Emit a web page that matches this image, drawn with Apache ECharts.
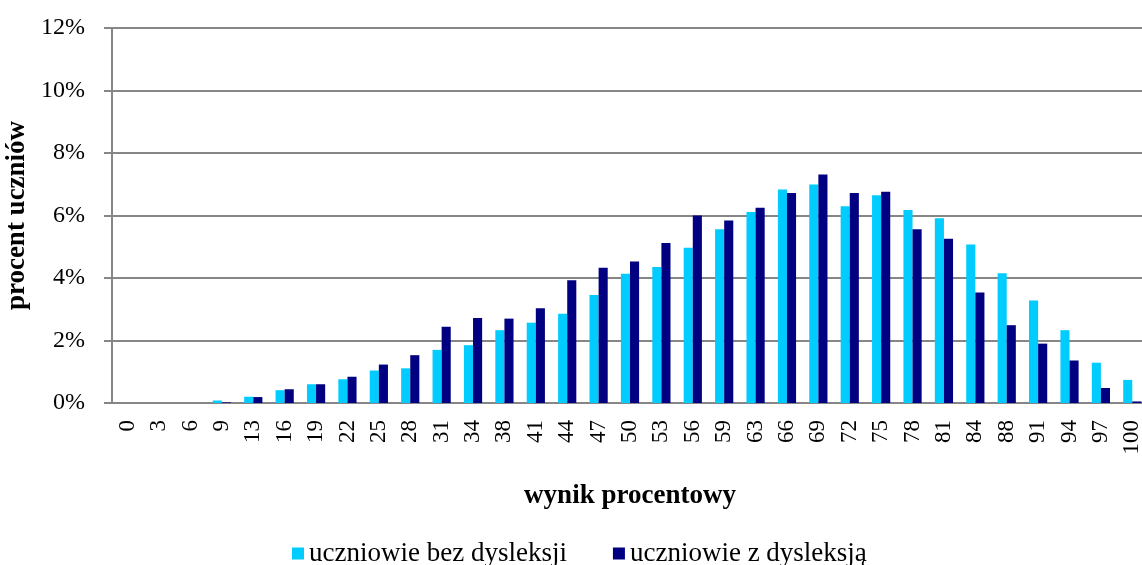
<!DOCTYPE html>
<html>
<head>
<meta charset="utf-8">
<script src="https://cdn.jsdelivr.net/npm/echarts@6/dist/echarts.min.js"></script>
<style>html,body{margin:0;padding:0;background:#fff;}#c{width:1142px;height:565px;}</style>
</head>
<body>
<div id="c"></div>
<script>
var categories = ['0','3','6','9','13','16','19','22','25','28','31','34','38','41','44','47','50','53','56','59','63','66','69','72','75','78','81','84','88','91','94','97','100'];
var bezDysleksji = [0,0,0,0.08,0.2,0.41,0.6,0.76,1.04,1.11,1.7,1.85,2.33,2.57,2.86,3.46,4.14,4.35,4.97,5.56,6.11,6.83,6.99,6.3,6.65,6.18,5.91,5.07,4.15,3.28,2.33,1.29,0.74];
var zDysleksja = [0,0,0,0.02,0.19,0.44,0.6,0.84,1.23,1.53,2.44,2.72,2.7,3.03,3.93,4.33,4.53,5.12,6.0,5.84,6.25,6.72,7.31,6.72,6.76,5.56,5.26,3.54,2.49,1.9,1.36,0.48,0.05];
var seriesNames = ['uczniowie bez dysleksji','uczniowie z dysleksją'];
var yTicks = {min:0, max:12, interval:2};

var font = '"Liberation Serif","Times New Roman",serif';
var chart = echarts.init(document.getElementById('c'));
chart.setOption({
  animation:false,
  textStyle:{fontFamily:font},
  legend:{
    left:292, top:540, padding:0, itemWidth:12, itemHeight:12, itemGap:46,
    icon:'rect',
    textStyle:{fontFamily:font, fontSize:27, color:'#000'},
    data:seriesNames
  },
  grid:{left:112, top:28, width:1036, bottom:162, containLabel:false, outerBoundsMode:'none'},
  xAxis:{
    type:'category', data:categories,
    name:'wynik procentowy', nameLocation:'middle', nameGap:80,
    nameTextStyle:{fontFamily:font, fontSize:27, fontWeight:'bold', color:'#000'},
    axisLine:{lineStyle:{color:'#868686', width:2}},
    axisTick:{show:false},
    axisLabel:{interval:0, rotate:90, fontSize:23, color:'#000', fontFamily:font, margin:17}
  },
  yAxis:{
    type:'value', min:yTicks.min, max:yTicks.max, interval:yTicks.interval,
    name:'procent uczniów', nameLocation:'middle', nameGap:73,
    nameTextStyle:{fontFamily:font, fontSize:27, fontWeight:'bold', color:'#000'},
    axisLine:{show:true, lineStyle:{color:'#868686', width:2}},
    axisTick:{show:true, length:8, lineStyle:{color:'#868686', width:2}},
    splitLine:{lineStyle:{color:'#868686', width:2}},
    axisLabel:{formatter:'{value}%', fontSize:24, color:'#000', fontFamily:font, margin:27}
  },
  series:[
    {name:seriesNames[0], type:'bar', data:bezDysleksji, barGap:'0%', barCategoryGap:'42%', itemStyle:{color:'#00CCFF'}},
    {name:seriesNames[1], type:'bar', data:zDysleksja, barGap:'0%', barCategoryGap:'42%', itemStyle:{color:'#000080'}}
  ]
});
</script>
</body>
</html>
